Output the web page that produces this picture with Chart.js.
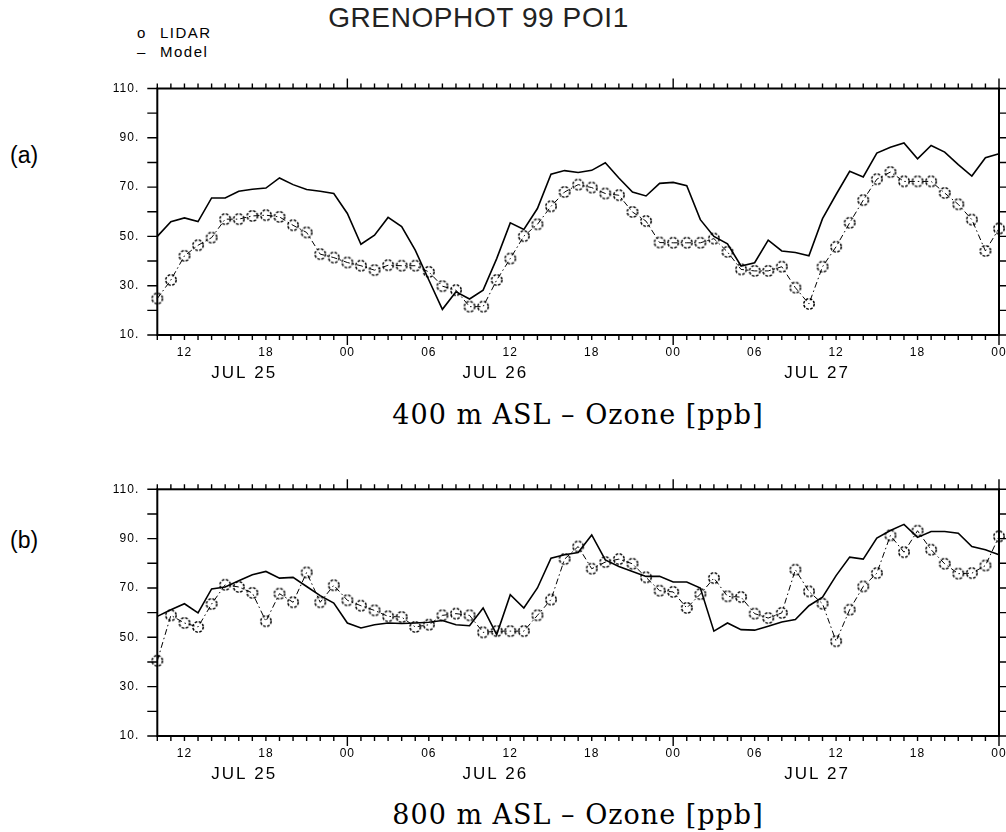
<!DOCTYPE html>
<html>
<head>
<meta charset="utf-8">
<title>GRENOPHOT 99 POI1</title>
<script src="https://cdn.jsdelivr.net/npm/chart.js@4.4.0/dist/chart.umd.min.js"></script>
<style>
body { margin: 0; background: #fff; width: 1006px; height: 832px; position: relative; overflow: hidden;
       font-family: "Liberation Sans", Arial, sans-serif; color: #000; }
canvas { position: absolute; left: 0; }
#chartA { top: 0; }
#chartB { top: 416px; }
.txt { position: absolute; white-space: nowrap; line-height: 1; }
#title { left: 0; width: 957px; text-align: center; top: 4px; font-size: 28px; letter-spacing: 0.6px; color: #222; }
.leg { font-size: 15px; letter-spacing: 1.5px; }
.panel { font-size: 23px; left: 10px; }
.axt { font-family: "DejaVu Serif", "Liberation Serif", serif; font-size: 27px; letter-spacing: 1px; transform: translateX(-50%); left: 578px; }
</style>
</head>
<body>
<div class="txt" id="title">GRENOPHOT 99 POI1</div>
<div class="txt leg" style="left:137px; top:25px;">o</div>
<div class="txt leg" style="left:160px; top:25px;">LIDAR</div>
<div class="txt leg" style="left:137px; top:44px;">–</div>
<div class="txt leg" style="left:160px; top:44px;">Model</div>
<div class="txt panel" style="top:144px;">(a)</div>
<div class="txt panel" style="top:529px;">(b)</div>
<div class="txt axt" style="top:401px;">400 m ASL – Ozone [ppb]</div>
<div class="txt axt" style="top:801px;">800 m ASL – Ozone [ppb]</div>
<canvas id="chartA" width="1006" height="416"></canvas>
<canvas id="chartB" width="1006" height="416"></canvas>
<script>
// hourly time axis, Jul 25 10:00 -> Jul 28 00:00
const hourLabels = [
    '10','11','12','13','14','15','16','17','18','19','20','21','22','23',
    '00','01','02','03','04','05','06','07','08','09','10','11','12','13','14','15','16','17','18','19','20','21','22','23',
    '00','01','02','03','04','05','06','07','08','09','10','11','12','13','14','15','16','17','18','19','20','21','22','23',
    '00'
];
const dayLabels = ['JUL 25', 'JUL 26', 'JUL 27'];
const dayLabelAt = [6.4, 24.9, 48.6]; // category index under which the date sits

const yTickValues = [10, 20, 30, 40, 50, 60, 70, 80, 90, 100, 110];
const yTickLabels = ['10.', '', '30.', '', '50.', '', '70.', '', '90.', '', '110.'];

// 400 m ASL
const model400 = [
    50, 56, 57.5, 56, 65.6, 65.6, 68.3, 69.1, 69.6, 73.7, 71, 69, 68.3, 67.4,
    59.3, 46.8, 50.5, 57.7, 54, 44.4, 32.3, 20.4, 27.5, 24.6, 28.2, 41, 55.5, 52.8, 61.3, 75.2, 76.7, 75.9, 76.8, 79.9, 73.7, 68, 66.4, 71.5,
    71.9, 70.6, 56.8, 50, 47, 38, 39.3, 48.5, 44.1, 43.5, 42.1, 57.2, 67, 76.4, 74.1, 83.8, 86.2, 87.9, 81.5, 86.9, 84.2, 79.1, 74.5, 81.9,
    83.5
];
const lidar400 = [
    24.8, 32.3, 42.1, 46.4, 49.5, 57, 57, 58.3, 58.6, 57.9, 54.5, 51.6, 42.8, 41.4,
    39.4, 38.1, 36.3, 38.3, 38.1, 38.1, 35.6, 29.8, 28.2, 21.5, 21.5, 32.3, 41, 50.1, 54.9, 62.2, 68, 71, 69.8, 67.4, 66.7, 59.9, 56.2, 47.5,
    47.4, 47.4, 47.4, 49.1, 43.7, 36.6, 36, 36, 37.7, 29.2, 22.6, 37.7, 45.8, 55.5, 64.7, 73.2, 76.1, 72.3, 72.3, 72.3, 67.6, 63, 56.8, 44.1,
    53.2
];

// 800 m ASL
const model800 = [
    58.5, 61.2, 63.6, 59.9, 69.6, 70.4, 72.9, 75.4, 76.7, 74, 74.3, 70.6, 66.9, 63.9,
    55.8, 53.8, 55.1, 55.8, 55.6, 55.8, 56.1, 56.8, 55.1, 54.7, 61.9, 51.1, 67.3, 61.9, 70, 82.1, 83.5, 84.4, 91.5, 81.4, 78.7, 76.7, 74.7, 74.7,
    72.4, 72.4, 70, 52.5, 55.8, 53.1, 52.9, 54.5, 56.2, 57.2, 62.8, 66.3, 75, 82.5, 81.7, 90.2, 93.3, 95.8, 90.5, 92.9, 92.9, 92.2, 86.8, 85.5,
    83.5
];
const lidar800 = [
    40.5, 58.9, 55.8, 54.2, 63.5, 71.3, 70.4, 68, 56.5, 67.7, 64.2, 76.3, 64.2, 71.1,
    65, 62.8, 60.9, 58.5, 58.2, 54.2, 55.1, 58.9, 59.6, 58.9, 52, 52.5, 52.5, 52.5, 58.9, 65.3, 81.7, 86.8, 77.8, 80.5, 81.7, 79.8, 74.3, 68.9,
    68.4, 61.9, 67.5, 74, 66.6, 66.3, 59.6, 57.8, 59.9, 77.4, 68.6, 63.6, 48.4, 61.2, 70.6, 76, 91.3, 84.5, 93.2, 85.5, 79.8, 75.8, 76, 79.1,
    90.9
];

// dotted open circle used for the LIDAR samples
const makeLidarMark = () => {
    const c = document.createElement('canvas');
    c.width = 14;
    c.height = 14;
    const g = c.getContext('2d');
    g.strokeStyle = '#000';
    g.lineWidth = 1.5;
    g.setLineDash([2.6, 1.5]);
    g.beginPath();
    g.arc(7, 7, 5.2, 0, Math.PI * 2);
    g.stroke();
    return c;
};
const lidarMark = makeLidarMark();

// frame, tick marks and axis text in the old plotting-package look
const axesPlugin = {
    id: 'ferretAxes',
    afterDraw(chart) {
        const { ctx, chartArea: a, scales: { x, y } } = chart;
        ctx.save();
        ctx.strokeStyle = '#000';
        ctx.lineWidth = 1.4;
        ctx.beginPath();
        hourLabels.forEach((h, i) => {
            const px = x.getPixelForValue(i);
            const len = h === '00' ? 10 : 5;
            ctx.moveTo(px, a.bottom);
            ctx.lineTo(px, a.bottom + len);
            ctx.moveTo(px, a.top);
            ctx.lineTo(px, a.top - len);
        });
        yTickValues.forEach(v => {
            const py = y.getPixelForValue(v);
            ctx.moveTo(a.left - 10, py);
            ctx.lineTo(a.left, py);
            ctx.moveTo(a.right, py);
            ctx.lineTo(a.right + 10, py);
        });
        ctx.stroke();

        ctx.lineWidth = 2;
        ctx.strokeRect(a.left, a.top, a.right - a.left, a.bottom - a.top);

        ctx.fillStyle = '#000';
        ctx.textBaseline = 'middle';
        ctx.font = '12px "Liberation Sans", Arial, sans-serif';
        ctx.letterSpacing = '1px';
        ctx.textAlign = 'right';
        yTickValues.forEach((v, i) => {
            if (yTickLabels[i]) ctx.fillText(yTickLabels[i], a.left - 18, y.getPixelForValue(v));
        });

        ctx.textAlign = 'center';
        hourLabels.forEach((h, i) => {
            if (Number(h) % 6 === 0) ctx.fillText(h, x.getPixelForValue(i), a.bottom + 18);
        });

        ctx.font = '17px "Liberation Sans", Arial, sans-serif';
        ctx.letterSpacing = '2px';
        dayLabels.forEach((d, i) => {
            ctx.fillText(d, x.getPixelForValue(dayLabelAt[i]), a.bottom + 38);
        });
        ctx.restore();
    }
};

const makePanel = (id, model, lidar, padTop, padBottom) => {
    return new Chart(document.getElementById(id), {
        type: 'line',
        data: {
            labels: hourLabels,
            datasets: [
                {
                    label: 'LIDAR',
                    data: lidar,
                    borderColor: '#000',
                    borderWidth: 1,
                    borderDash: [6, 3, 1.5, 3],
                    pointStyle: lidarMark,
                    pointRadius: 6,
                    tension: 0,
                    fill: false
                },
                {
                    label: 'Model',
                    data: model,
                    borderColor: '#000',
                    borderWidth: 1.6,
                    pointRadius: 0,
                    tension: 0,
                    fill: false
                }
            ]
        },
        options: {
            responsive: false,
            animation: false,
            layout: {
                padding: { left: 157.3, right: 6, top: padTop, bottom: padBottom }
            },
            scales: {
                x: { type: 'category', display: false },
                y: { display: false, min: 10, max: 110 }
            },
            plugins: {
                legend: { display: false },
                tooltip: { enabled: false }
            }
        },
        plugins: [axesPlugin]
    });
};

makePanel('chartA', model400, lidar400, 88.5, 81);
makePanel('chartB', model800, lidar800, 73.3, 96);
</script>
</body>
</html>
